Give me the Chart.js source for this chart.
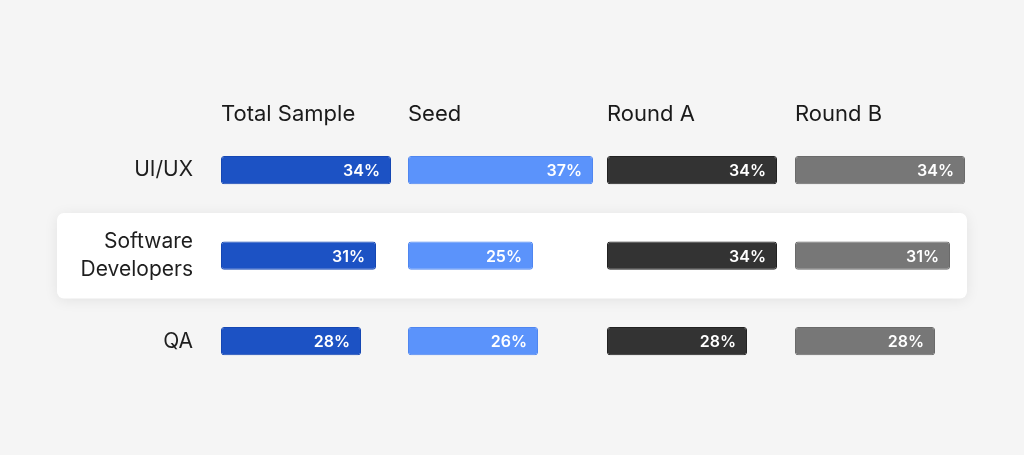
<!DOCTYPE html>
<html>
<head>
<meta charset="utf-8">
<script src="https://cdn.jsdelivr.net/npm/chart.js@4"></script>
<style>
  html, body { margin: 0; background: #f5f5f5; }
</style>
</head>
<body>
<canvas id="roles_chart" width="1024" height="455"></canvas>
<script>
// data
const roles = ['UI/UX', ['Software', 'Developers'], 'QA'];
const columns = ['Total Sample', 'Seed', 'Round A', 'Round B'];
const total_sample = [34, 31, 28];
const seed = [37, 25, 26];
const round_a = [34, 34, 28];
const round_b = [34, 31, 28];

const col_widths = [187, 199, 188, 188];
const px_per_pct = 5;
const fills = ['#1c52c4', '#5b93fb', '#333333', '#777777'];
const edges = ['#1547b3', '#4f86f0', '#222222', '#6a6a6a'];
const series = [total_sample, seed, round_a, round_b];

// white card behind the highlighted row
const highlight_row = {
  id: 'highlight_row',
  beforeDraw(chart) {
    const ctx = chart.ctx, y = chart.scales.y;
    const band = (y.bottom - y.top) / roles.length;
    const cy = y.getPixelForValue(1);
    ctx.save();
    ctx.shadowColor = 'rgba(0,0,0,0.08)';
    ctx.shadowBlur = 14;
    ctx.shadowOffsetY = 2;
    ctx.fillStyle = '#ffffff';
    ctx.beginPath();
    ctx.roundRect(57, cy - band / 2, 910, band, 7);
    ctx.fill();
    ctx.restore();
  }
};

// percent labels inside the bars
const bar_values = {
  id: 'bar_values',
  afterDatasetsDraw(chart) {
    const ctx = chart.ctx;
    ctx.save();
    ctx.font = '600 16px Inter';
    ctx.fillStyle = '#ffffff';
    ctx.textAlign = 'right';
    ctx.textBaseline = 'middle';
    chart.data.datasets.forEach((ds, i) => {
      chart.getDatasetMeta(i).data.forEach((bar, j) => {
        ctx.fillText(ds.data[j] + '%', bar.x - 11, bar.y + 1);
      });
    });
    ctx.restore();
  }
};

const scales = {
  y: {
    type: 'category',
    grid: { display: false, drawTicks: false },
    border: { display: false },
    ticks: { padding: 28, color: '#1e1e1e', font: { family: 'Inter', size: 21, lineHeight: 1.35 } },
    afterFit(scale) { scale.width = 221; }
  }
};
// stacked axes get laid out last-first, so add them in reverse
for (let i = columns.length - 1; i >= 0; i--) {
  scales['x' + i] = {
    type: 'linear',
    axis: 'x',
    position: 'top',
    stack: 'cols',
    stackWeight: col_widths[i],
    min: 0,
    max: col_widths[i] / px_per_pct,
    ticks: { display: false },
    grid: { display: false, drawTicks: false },
    border: { display: false },
    title: {
      display: true,
      text: columns[i],
      align: 'start',
      color: '#1a1a1a',
      padding: { top: 0, bottom: 0 },
      font: { family: 'Inter', size: 22, lineHeight: 1.2 }
    }
  };
}

new Chart(document.getElementById('roles_chart'), {
  type: 'bar',
  data: {
    labels: roles,
    datasets: columns.map((name, i) => ({
      label: name,
      data: series[i],
      xAxisID: 'x' + i,
      backgroundColor: fills[i],
      borderColor: edges[i],
      borderWidth: 1,
      borderRadius: 3,
      borderSkipped: false,
      grouped: false,
      barPercentage: 0.33,
      categoryPercentage: 1
    }))
  },
  options: {
    indexAxis: 'y',
    responsive: false,
    animation: false,
    layout: { padding: { top: 101, bottom: 71, left: 0, right: 41 } },
    plugins: { legend: { display: false }, tooltip: { enabled: false } },
    scales: scales
  },
  plugins: [highlight_row, bar_values]
});
</script>
</body>
</html>
